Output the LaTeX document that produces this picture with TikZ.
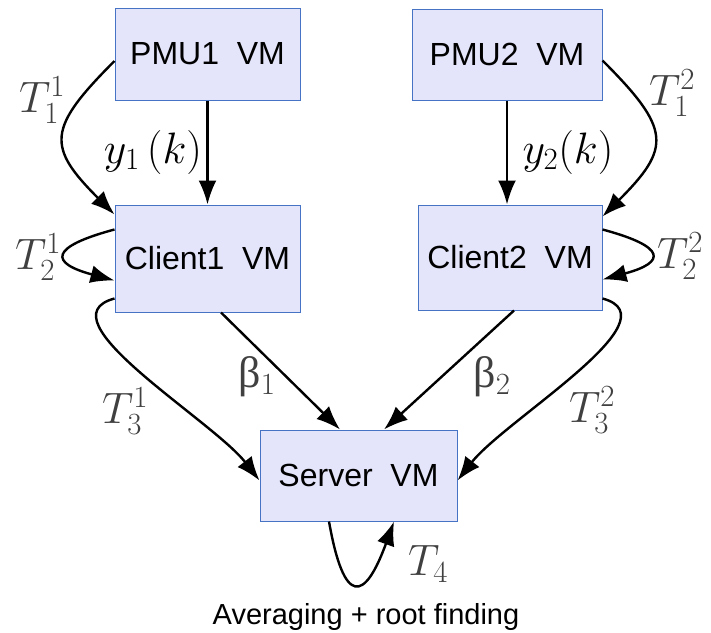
\documentclass[tikz,border=0pt]{standalone}
\usepackage{fix-cm}
\usepackage{fontspec}
\setmainfont{Liberation Sans}
\newfontfamily\grkfont{Liberation Serif}
\usetikzlibrary{positioning}
\usetikzlibrary{arrows.meta}

\definecolor{boxfill}{RGB}{228,228,250}
\definecolor{boxline}{RGB}{70,115,195}
\definecolor{labelgray}{RGB}{64,64,64}

\tikzset{
	vmbox/.style={draw=boxline,line width=1pt,fill=boxfill,inner sep=0pt,font=\fontsize{32}{38}\selectfont},
	link/.style={-{Latex[length=24pt,width=18pt]},line width=2.4pt},
	tlabel/.style={text=labelgray,font=\fontsize{44}{50}\selectfont},
	blabel/.style={text=labelgray,font=\fontsize{44}{50}\selectfont},
	ylabel/.style={text=black,font=\fontsize{44}{50}\selectfont},
}

\begin{document}
\begin{tikzpicture}[x=1pt,y=1pt]

	\useasboundingbox (0,0) rectangle (711,-632);

	%% Machines %%
	\node [vmbox,minimum width=185pt,minimum height=92pt] (pmuA) at (207.5,-54) {PMU1\ \ VM};
	\node [vmbox,minimum width=190pt,minimum height=91pt] (pmuB) at (507,-54.5) {PMU2\ \ VM};
	\node [vmbox,minimum width=185pt,minimum height=107pt] (clientA) at (207.5,-258.5) {Client1\ \ VM};
	\node [vmbox,minimum width=184pt,minimum height=105pt] (clientB) at (510,-257.5) {Client2\ \ VM};
	\node [vmbox,minimum width=197pt,minimum height=91pt] (server) at (358.5,-475.5) {Server\ \ VM};
	\node [font=\fontsize{29}{34}\selectfont] (task) at (366,-617) {Averaging + root finding};

	%% Measurements %%
	\draw [link] (pmuA.south) -- (pmuA.south |- clientA.north);
	\draw [link] (pmuB.south) -- (pmuB.south |- clientB.north);
	\node [ylabel] (yA) at (153,-152) {$y_1\,(k)$};
	\node [ylabel] (yB) at (568,-152) {$y_2(k)$};

	%% Timing loops %%
	\draw [link] ([yshift=-7pt]pmuA.west) to [out=225,in=135,looseness=1.6] ([yshift=-10pt]clientA.north west);
	\draw [link] ([yshift=-6pt]pmuB.east) to [out=-45,in=45,looseness=1.6] ([yshift=-12pt]clientB.north east);
	\draw [link] ([yshift=29pt]clientA.west) to [out=195,in=165,looseness=3.4] ([yshift=-22pt]clientA.west);
	\draw [link] ([yshift=28pt]clientB.east) to [out=-15,in=15,looseness=3.4] ([yshift=-22pt]clientB.east);
	\draw [link] ([yshift=14pt]clientA.south west) to [out=195,in=128,looseness=0.85] ([yshift=-5pt]server.west);
	\draw [link] ([yshift=12pt]clientB.south east) to [out=-15,in=52,looseness=0.85] ([yshift=-5pt]server.east);
	\draw [link] ([xshift=-29.5pt]server.south) to [out=-80,in=-110,looseness=3.4] ([xshift=35.5pt]server.south);
	\node [tlabel] (tA1) at (42,-100) {$T_1^1$};
	\node [tlabel] (tA2) at (38,-257) {$T_2^1$};
	\node [tlabel] (tA3) at (125,-411) {$T_3^1$};
	\node [tlabel] (tB1) at (672,-93) {$T_1^2$};
	\node [tlabel] (tB2) at (680,-256) {$T_2^2$};
	\node [tlabel] (tB3) at (592,-410) {$T_3^2$};
	\node [tlabel] (tS) at (428,-564) {$T_4$};

	%% Estimates %%
	\draw [link] ([xshift=13.5pt]clientA.south) -- ([xshift=-18.5pt]server.north);
	\draw [link] ([xshift=4pt]clientB.south) -- ([xshift=25.5pt]server.north);
	\node [blabel] (bA) at (257,-377) {{\grkfont β}$_1$};
	\node [blabel] (bB) at (492,-377) {{\grkfont β}$_2$};

\end{tikzpicture}
\end{document}
